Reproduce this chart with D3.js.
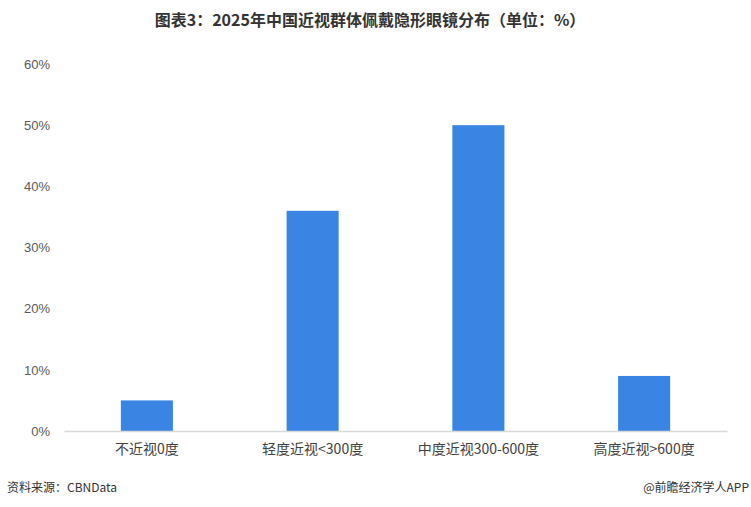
<!DOCTYPE html>
<html><head><meta charset="utf-8">
<script src="https://cdn.jsdelivr.net/npm/d3@7"></script>
<style>body{margin:0;background:#fff}svg{display:block}</style>
</head><body>
<script>
const titleText = "图表3：2025年中国近视群体佩戴隐形眼镜分布（单位：%）";
const categories = ["不近视0度", "轻度近视<300度", "中度近视300-600度", "高度近视>600度"];
const values = [5, 36, 50, 9];
const yTicks = [0, 10, 20, 30, 40, 50, 60];
const sourceText = "资料来源：CBNData";
const creditText = "@前瞻经济学人APP";

const W = 751, H = 507;
const font = "'Noto Sans CJK SC', 'Noto Sans', sans-serif";
const svg = d3.select("body").append("svg").attr("width", W).attr("height", H);

const x = d3.scaleBand().domain(categories).range([64, 727]).paddingInner(0.686).paddingOuter(0.343);
const y = d3.scaleLinear().domain([0, 60]).range([431, 64]);

svg.append("text").attr("x", 370).attr("y", 26).attr("text-anchor", "middle")
  .attr("font-family", font).attr("font-weight", "bold").attr("font-size", 16).attr("fill", "#333")
  .text(titleText);

const yAxis = svg.append("g").attr("transform", "translate(64,0)")
  .call(d3.axisLeft(y).tickValues(yTicks).tickFormat(d => d + "%").tickSize(0).tickPadding(14));
yAxis.select(".domain").remove();
yAxis.selectAll("text").attr("font-family", "'Liberation Sans', Arial, sans-serif").attr("font-size", 13).attr("fill", "#595959");

svg.selectAll("rect.bar").data(values).enter().append("rect").attr("class", "bar")
  .attr("x", (d, i) => x(categories[i])).attr("width", x.bandwidth())
  .attr("y", d => y(d)).attr("height", d => y(0) - y(d)).attr("fill", "#3a84e3");

const xAxis = svg.append("g").attr("transform", `translate(0,${y(0)})`)
  .call(d3.axisBottom(x).tickSize(0).tickPadding(13));
xAxis.select(".domain").attr("stroke", "#d9d9d9").attr("stroke-width", 1.5);
xAxis.selectAll("text").attr("font-family", font).attr("font-size", 14).attr("fill", "#404040");

svg.append("text").attr("x", 7).attr("y", 492).attr("font-family", font).attr("font-size", 12).attr("fill", "#333").text(sourceText);
svg.append("text").attr("x", 749).attr("y", 492).attr("text-anchor", "end").attr("font-family", font).attr("font-size", 12).attr("fill", "#333").text(creditText);
</script>
</body></html>
